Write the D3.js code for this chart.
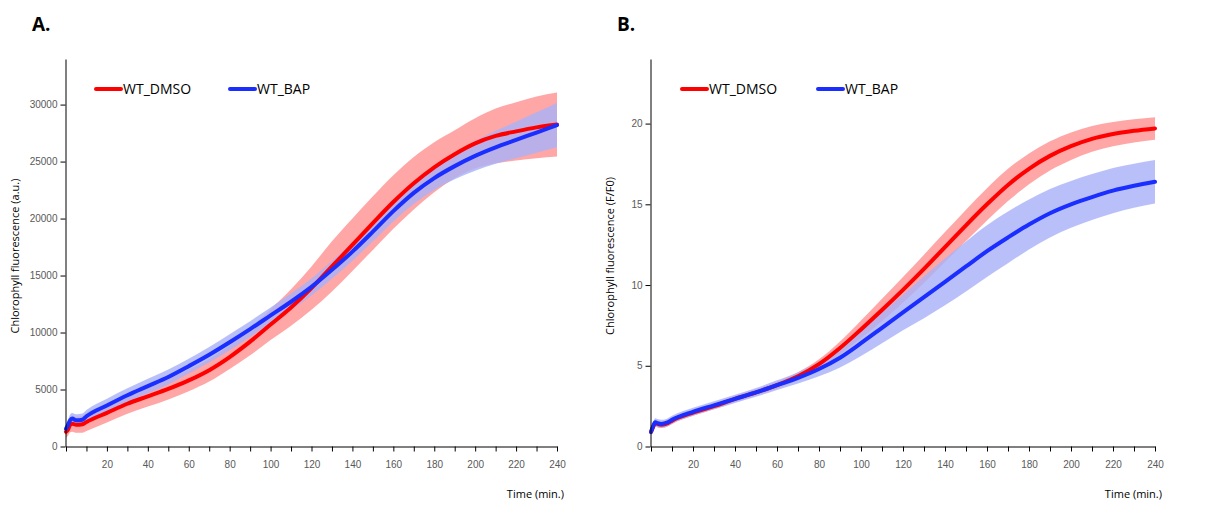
<!DOCTYPE html>
<html>
<head>
<meta charset="utf-8">
<title>Chlorophyll fluorescence</title>
<style>
body { margin: 0; background: #fff; font-family: 'Open Sans', sans-serif; }
svg { display: block; }
.axis path, .axis line { stroke: #000; }
.axis text { fill: #595959; font-size: 10px; font-family: 'Liberation Sans', sans-serif; }
.lbl { font-size: 11px; fill: #000; }
.leg { font-size: 14px; fill: #000; }
.ttl { font-size: 19px; font-weight: bold; fill: #000; }
</style>
<script src="https://cdn.jsdelivr.net/npm/d3@7"></script>
</head>
<body>
<script>
// time points (min.)
var times = [0, 1, 2, 3, 5, 8, 10, 20, 30, 40, 50, 60, 70, 80, 90, 100, 110, 120,
    130, 140, 150, 160, 170, 180, 190, 200, 210, 220, 230, 240];

// panel A, a.u.
var dmsoA = [1300, 1500, 1900, 2000, 1900, 1950, 2150, 2950, 3750, 4400, 5050, 5800,
    6700, 7850, 9200, 10700, 12200, 13900, 15800, 17700, 19600, 21450, 23100, 24500,
    25650, 26600, 27250, 27650, 28000, 28250];
var dmsoA_sd = [500, 550, 650, 700, 700, 750, 800, 850, 880, 900, 920, 950, 1000, 1050,
    1200, 1350, 1600, 1900, 2200, 2300, 2350, 2350, 2300, 2200, 2100, 2200, 2400, 2550,
    2700, 2800];
var bapA = [1550, 1900, 2300, 2450, 2300, 2350, 2650, 3600, 4500, 5300, 6100, 7050,
    8050, 9150, 10300, 11500, 12700, 14000, 15500, 17100, 18850, 20650, 22250, 23550,
    24600, 25500, 26250, 26900, 27550, 28200];
var bapA_sd = [400, 450, 500, 500, 520, 540, 550, 600, 620, 650, 650, 650, 680, 700, 700,
    700, 720, 750, 780, 800, 850, 900, 980, 1050, 1150, 1300, 1450, 1600, 1780, 1950];

// panel B, F/F0
var dmsoB = [0.9, 1.2, 1.45, 1.4, 1.35, 1.45, 1.6, 2.1, 2.5, 2.95, 3.35, 3.8, 4.35,
    5.1, 6.1, 7.25, 8.45, 9.7, 11.0, 12.35, 13.7, 15.0, 16.2, 17.2, 18.0, 18.6,
    19.05, 19.35, 19.55, 19.7];
var dmsoB_sd = [0.15, 0.18, 0.2, 0.2, 0.2, 0.2, 0.2, 0.2, 0.2, 0.2, 0.2, 0.22, 0.25,
    0.3, 0.4, 0.55, 0.7, 0.8, 0.88, 0.93, 0.97, 1.0, 1.0, 0.95, 0.9, 0.85, 0.8, 0.75,
    0.72, 0.7];
var bapB = [0.9, 1.25, 1.5, 1.45, 1.4, 1.5, 1.65, 2.15, 2.55, 2.95, 3.35, 3.8, 4.25,
    4.8, 5.5, 6.4, 7.35, 8.3, 9.25, 10.2, 11.15, 12.1, 12.95, 13.75, 14.45, 15.0, 15.45,
    15.85, 16.15, 16.4];
var bapB_sd = [0.25, 0.25, 0.25, 0.25, 0.25, 0.25, 0.25, 0.25, 0.25, 0.25, 0.27, 0.3,
    0.35, 0.45, 0.6, 0.8, 0.95, 1.1, 1.3, 1.45, 1.55, 1.6, 1.6, 1.55, 1.5, 1.45, 1.42,
    1.4, 1.37, 1.35];

var xTicks = d3.range(0, 241, 10);
var yTicksA = [0, 5000, 10000, 15000, 20000, 25000, 30000];
var yTicksB = [0, 5, 10, 15, 20];
var seriesNames = ['WT_DMSO', 'WT_BAP'];

var width = 1223, height = 524;
var red = '#ff0000', blue = '#1a2eff';
var redBand = '#ff9c9c', blueBand = '#aab2f8';

var svg = d3.select('body').append('svg')
    .attr('width', width)
    .attr('height', height);

var drawPanel = function (p) {
    var x = d3.scaleLinear().domain([0, 240]).range([p.x0, p.x1]);
    var y = d3.scaleLinear().domain([0, p.ymax]).range([446.5, 59]);
    var g = svg.append('g');

    var series = [
        { v: p.dmso, sd: p.dmsoSd, col: red, band: redBand, op: 0.9 },
        { v: p.bap, sd: p.bapSd, col: blue, band: blueBand, op: 0.82 }
    ];

    series.forEach(function (s) {
        var area = d3.area()
            .x(function (d, i) { return x(times[i]); })
            .y0(function (d, i) { return y(d - s.sd[i]); })
            .y1(function (d, i) { return y(d + s.sd[i]); })
            .curve(d3.curveMonotoneX);
        g.append('path')
            .datum(s.v)
            .attr('d', area)
            .attr('fill', s.band)
            .attr('fill-opacity', s.op);
    });

    series.forEach(function (s) {
        var line = d3.line()
            .x(function (d, i) { return x(times[i]); })
            .y(function (d) { return y(d); })
            .curve(d3.curveMonotoneX);
        g.append('path')
            .datum(s.v)
            .attr('d', line)
            .attr('fill', 'none')
            .attr('stroke', s.col)
            .attr('stroke-width', 4)
            .attr('stroke-linejoin', 'round')
            .attr('stroke-linecap', 'round');
    });

    g.append('g')
        .attr('class', 'axis')
        .attr('transform', 'translate(0,446.5)')
        .call(d3.axisBottom(x).tickValues(xTicks).tickSize(5).tickSizeOuter(0)
            .tickFormat(function (d) { return (d % 20 === 0 && d > 0) ? d : ''; }))
        .call(function (a) { a.selectAll('text').attr('dy', '1.3em'); });

    g.append('g')
        .attr('class', 'axis')
        .attr('transform', 'translate(' + (p.x0 - 0.5) + ',0)')
        .call(d3.axisLeft(y).tickValues(p.yTicks).tickSize(5).tickSizeOuter(0)
            .tickFormat(d3.format('d')));

    g.append('text')
        .attr('class', 'lbl')
        .attr('transform', 'translate(' + p.ylx + ',256) rotate(-90)')
        .attr('text-anchor', 'middle')
        .text(p.ylabel);

    g.append('text')
        .attr('class', 'lbl')
        .attr('x', p.x1 + 7)
        .attr('y', 498)
        .attr('text-anchor', 'end')
        .text('Time (min.)');

    g.append('text')
        .attr('class', 'ttl')
        .attr('x', p.x0 - 34)
        .attr('y', 31)
        .text(p.title);

    var leg = g.append('g').attr('transform', 'translate(' + p.legX + ',89)');
    seriesNames.forEach(function (n, i) {
        var lx = i * p.legGap;
        leg.append('line')
            .attr('x1', lx + 2).attr('x2', lx + 27)
            .attr('y1', 0).attr('y2', 0)
            .attr('stroke', i === 0 ? red : blue)
            .attr('stroke-width', 4)
            .attr('stroke-linecap', 'round');
        leg.append('text')
            .attr('class', 'leg')
            .attr('x', lx + 29)
            .attr('y', 5)
            .text(n);
    });
};

drawPanel({ x0: 66, x1: 557, ymax: 34000, yTicks: yTicksA,
    dmso: dmsoA, dmsoSd: dmsoA_sd, bap: bapA, bapSd: bapA_sd,
    ylabel: 'Chlorophyll fluorescence (a.u.)', ylx: 19, title: 'A.',
    legX: 94, legGap: 134 });

drawPanel({ x0: 651, x1: 1155, ymax: 24, yTicks: yTicksB,
    dmso: dmsoB, dmsoSd: dmsoB_sd, bap: bapB, bapSd: bapB_sd,
    ylabel: 'Chlorophyll fluorescence (F/F0)', ylx: 614, title: 'B.',
    legX: 680, legGap: 136 });
</script>
</body>
</html>
